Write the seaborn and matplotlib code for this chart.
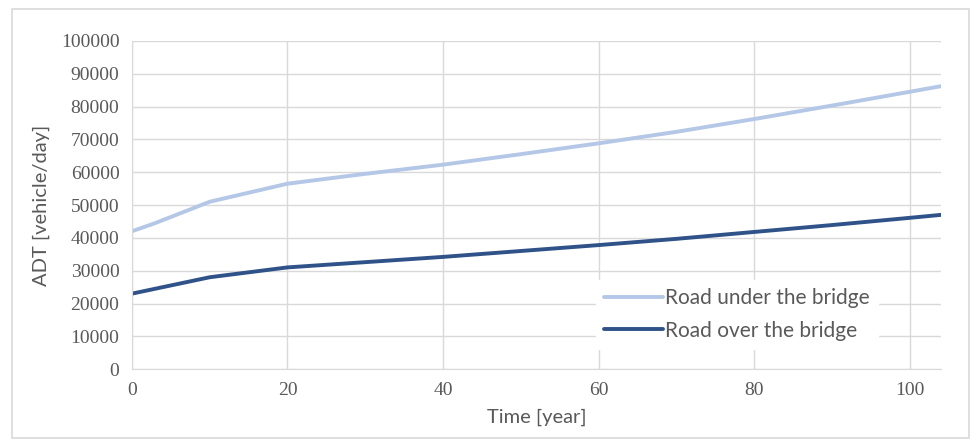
import matplotlib
matplotlib.use("Agg")
import matplotlib.pyplot as plt
import matplotlib.patches as mpatches
import seaborn as sns
import pandas as pd

years = [0, 3, 10, 20, 30, 40, 50, 60, 70, 80, 90, 100, 104]
road_under = [42000, 44500, 51000, 56500, 59500, 62300, 65500, 68800, 72300, 76200, 80300, 84500, 86200]
road_over = [23000, 24500, 28000, 31000, 32600, 34200, 36000, 37800, 39700, 41800, 43900, 46100, 47000]
series_names = ["Road under the bridge", "Road over the bridge"]

df = pd.concat([
    pd.DataFrame({"Time": years, "ADT": road_under, "Series": series_names[0]}),
    pd.DataFrame({"Time": years, "ADT": road_over, "Series": series_names[1]}),
])

sns.set_style("white")
label_font = ["Lato", "DejaVu Sans"]
tick_font = ["Liberation Serif", "DejaVu Serif"]
grey = "#595959"

fig = plt.figure(figsize=(9.77, 4.4), dpi=100)
ax = fig.add_axes([0.135, 0.161, 0.828, 0.746])

palette = {series_names[0]: "#B4C7E7", series_names[1]: "#2F5289"}
sns.lineplot(data=df, x="Time", y="ADT", hue="Series", palette=palette,
             linewidth=2.8, ax=ax)

ax.set_xlim(0, 104)
ax.set_ylim(0, 100000)
ax.set_xticks(range(0, 101, 20))
ax.set_yticks(range(0, 100001, 10000))
ax.grid(True, color="#D9D9D9", linewidth=1)
for s in ["top", "right"]:
    ax.spines[s].set_visible(False)
for s in ["left", "bottom"]:
    ax.spines[s].set_color("#D9D9D9")
ax.tick_params(length=0, pad=9)
for lab in ax.get_xticklabels() + ax.get_yticklabels():
    lab.set_family(tick_font)
    lab.set_fontsize(14)
    lab.set_color(grey)

ax.set_xlabel("Time [year]", fontsize=14.5, color=grey, family=label_font, labelpad=7)
ax.set_ylabel("ADT [vehicle/day]", fontsize=14.5, color=grey, family=label_font, labelpad=8)

leg = ax.legend(loc="lower right", bbox_to_anchor=(0.935, 0.03), frameon=True,
                framealpha=1, edgecolor="white", handlelength=2.8, handletextpad=0.1,
                prop={"family": label_font, "size": 15}, labelspacing=0.6)
for t in leg.get_texts():
    t.set_color(grey)

fig.patches.append(mpatches.Rectangle((0.012, 0.005), 0.98, 0.975, transform=fig.transFigure,
                                      fill=False, edgecolor="#D9D9D9", linewidth=1.2))

fig.savefig("out.png", dpi=100)
